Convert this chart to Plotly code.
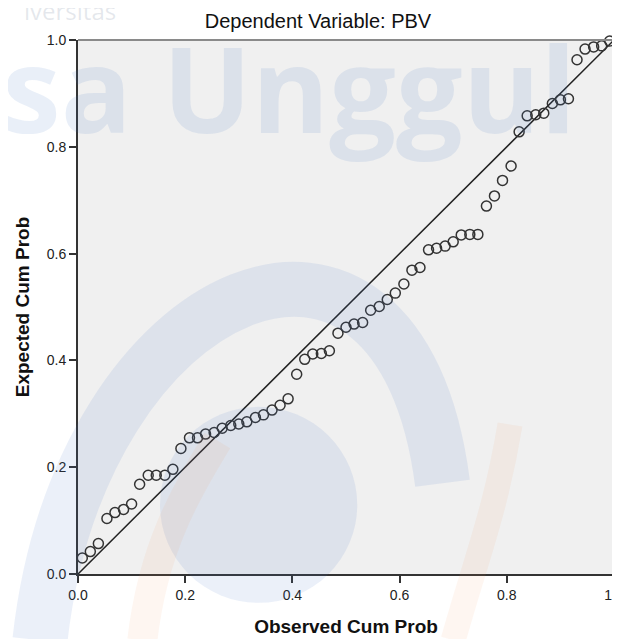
import plotly.graph_objects as go

# Observed cumulative probability (x)
observed = [0.008, 0.023, 0.038, 0.054, 0.069, 0.085, 0.100, 0.115, 0.131, 0.146,
            0.162, 0.177, 0.192, 0.208, 0.223, 0.238, 0.254, 0.269, 0.285, 0.300,
            0.315, 0.331, 0.346, 0.362, 0.377, 0.392, 0.408, 0.423, 0.438, 0.454,
            0.469, 0.485, 0.500, 0.515, 0.531, 0.546, 0.562, 0.577, 0.592, 0.608,
            0.623, 0.638, 0.654, 0.669, 0.685, 0.700, 0.715, 0.731, 0.746, 0.762,
            0.777, 0.792, 0.808, 0.823, 0.838, 0.854, 0.869, 0.885, 0.900, 0.915,
            0.931, 0.946, 0.962, 0.977, 0.992]

# Expected cumulative probability (y)
expected = [0.030, 0.042, 0.057, 0.104, 0.115, 0.121, 0.131, 0.168, 0.185, 0.185,
            0.185, 0.196, 0.235, 0.255, 0.255, 0.262, 0.265, 0.273, 0.278, 0.281,
            0.285, 0.293, 0.298, 0.307, 0.316, 0.328, 0.374, 0.402, 0.412, 0.413,
            0.418, 0.451, 0.462, 0.468, 0.471, 0.494, 0.501, 0.514, 0.526, 0.543,
            0.569, 0.574, 0.607, 0.610, 0.614, 0.622, 0.635, 0.636, 0.636, 0.689,
            0.708, 0.737, 0.764, 0.828, 0.858, 0.860, 0.863, 0.881, 0.888, 0.890,
            0.963, 0.983, 0.987, 0.989, 0.998]

ref_line = [0.0, 1.0]
tick_vals = [0.0, 0.2, 0.4, 0.6, 0.8, 1.0]
tick_text = ["0.0", "0.2", "0.4", "0.6", "0.8", "1.0"]

title_text = "Dependent Variable: PBV"
x_title = "Observed Cum Prob"
y_title = "Expected Cum Prob"

FONT = "Liberation Sans, Arial, sans-serif"
WM_BLUE = "rgba(70,120,200,0.11)"
WM_ORANGE = "rgba(245,140,80,0.08)"

fig = go.Figure()

fig.add_trace(go.Scatter(
    x=ref_line, y=ref_line, mode="lines",
    line=dict(color="#222222", width=1.5),
    hoverinfo="skip", showlegend=False, cliponaxis=False,
))

fig.add_trace(go.Scatter(
    x=observed, y=expected, mode="markers",
    marker=dict(symbol="circle-open", size=10, color="#333333",
                line=dict(width=1.5, color="#333333")),
    showlegend=False, cliponaxis=False,
))

axis_common = dict(
    range=[0, 1],
    tickvals=tick_vals,
    ticktext=tick_text,
    showgrid=False,
    zeroline=False,
    showline=True,
    linecolor="#333333",
    linewidth=2,
    mirror=False,
    ticks="outside",
    ticklen=7,
    tickwidth=1.5,
    tickcolor="#333333",
    automargin=False,
    tickfont=dict(family=FONT, size=14, color="#222222"),
)

fig.update_layout(
    width=620, height=639,
    paper_bgcolor="white",
    plot_bgcolor="#f0f0f0",
    margin=dict(l=70, r=14, t=32, b=73),
    title=dict(text=title_text, x=0.5, xanchor="center",
               y=0.979, yanchor="middle",
               font=dict(family=FONT, size=20, color="#111111")),
    xaxis=dict(axis_common,
               title=dict(text="<b>" + x_title + "</b>", standoff=18,
                          font=dict(family=FONT, size=19, color="#111111"))),
    yaxis=dict(axis_common,
               title=dict(text="<b>" + y_title + "</b>", standoff=12,
                          font=dict(family=FONT, size=19, color="#111111"))),
    shapes=[
        # faint watermark logo (paper coordinates)
        dict(type="circle", xref="paper", yref="paper", layer="above",
             x0=0.153, x1=0.521, y0=-0.054, y1=0.313,
             fillcolor=WM_BLUE, line=dict(width=0)),
        dict(type="path", xref="paper", yref="paper", layer="above",
             path="M -0.071,-0.124 C 0.004,0.551 0.60,0.80 0.68,0.17",
             line=dict(color=WM_BLUE, width=55)),
        dict(type="path", xref="paper", yref="paper", layer="above",
             path="M 0.12,-0.124 C 0.14,0.05 0.2,0.15 0.26,0.25",
             line=dict(color=WM_ORANGE, width=30)),
        dict(type="path", xref="paper", yref="paper", layer="above",
             path="M 0.806,0.28 C 0.78,0.12 0.74,0.02 0.70,-0.124",
             line=dict(color=WM_ORANGE, width=25)),
        # frame top/right
        dict(type="line", xref="paper", yref="paper", x0=0, x1=1, y0=1, y1=1,
             line=dict(color="#8a8a8a", width=2)),
        dict(type="line", xref="paper", yref="paper", x0=1, x1=1, y0=0, y1=1,
             line=dict(color="#8a8a8a", width=2)),
    ],
    annotations=[
        dict(text="<b>sa Unggul</b>", xref="paper", yref="paper",
             x=-0.145, y=1.065, xanchor="left", yanchor="top", showarrow=False,
             font=dict(family="Open Sans, sans-serif", size=118, color="rgba(70,120,200,0.12)")),
        dict(text="iversitas", xref="paper", yref="paper",
             x=-0.105, y=1.056, xanchor="left", yanchor="middle", showarrow=False,
             font=dict(family="Open Sans, sans-serif", size=24, color="rgba(150,160,180,0.25)")),
    ],
)

fig.write_html("out.html")
